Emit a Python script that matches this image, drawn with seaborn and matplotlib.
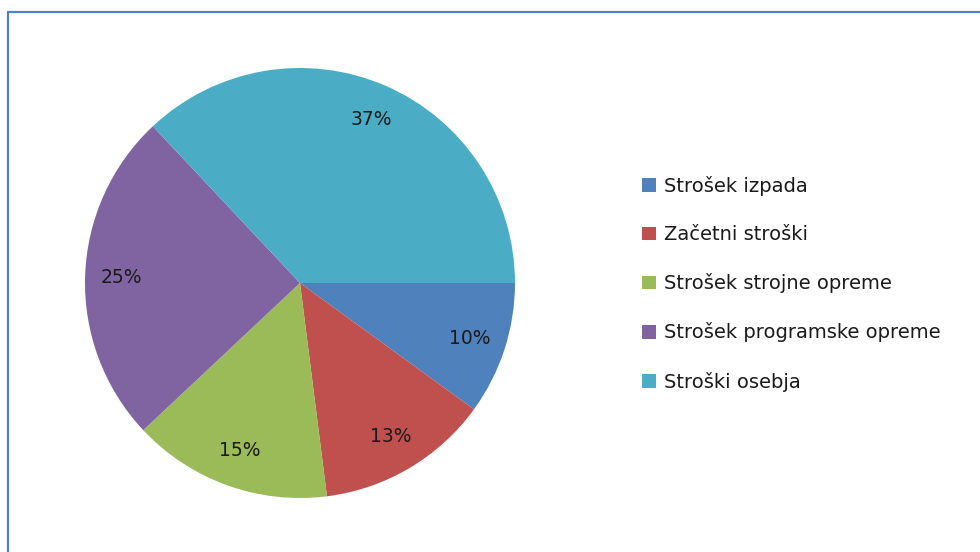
import matplotlib
matplotlib.use("Agg")
import matplotlib.pyplot as plt
from matplotlib.patches import Rectangle
import seaborn as sns

# data
categories = ["Strošek izpada", "Začetni stroški", "Strošek strojne opreme",
              "Strošek programske opreme", "Stroški osebja"]
shares = [10, 13, 15, 25, 37]
colors = ["#4F81BD", "#C0504D", "#9BBB59", "#8064A2", "#4BACC6"]

sns.set_theme(style="white")
plt.rcParams['font.family'] = ['DejaVu Sans']

W, H = 980, 552
fig = plt.figure(figsize=(W / 100, H / 100), dpi=100)

# pie occupies x 85..515, y 68..498 (pixels)
ax = fig.add_axes([85 / W, 1 - 498 / H, 430 / W, 430 / H])
palette = sns.color_palette(colors)
wedges, texts, autotexts = ax.pie(
    shares, colors=palette, startangle=0, counterclock=False,
    autopct=lambda p: f"{p:.0f}%", pctdistance=0.83, radius=1,
    wedgeprops=dict(linewidth=0),
    textprops=dict(fontsize=13.5, color="#1a1a1a"))
ax.set_xlim(-1, 1)
ax.set_ylim(-1, 1)
ax.set_aspect("equal")
ax.axis("off")

leg = fig.legend(wedges, categories, loc="upper left",
                 bbox_to_anchor=(642 / W, 1 - 176 / H),
                 frameon=False, fontsize=14, handlelength=0.7,
                 handleheight=0.7, handletextpad=0.45, labelspacing=1.5,
                 borderpad=0, borderaxespad=0)
for t in leg.get_texts():
    t.set_color("#1a1a1a")

# chart frame (only left and top edges visible)
fig.patches.append(Rectangle((8 / W, -0.1), 1.2, 1 - 12 / H + 0.1,
                             transform=fig.transFigure, fill=False,
                             edgecolor="#4F81BD", linewidth=1.6))

fig.savefig("out.png", dpi=100, facecolor="white")
